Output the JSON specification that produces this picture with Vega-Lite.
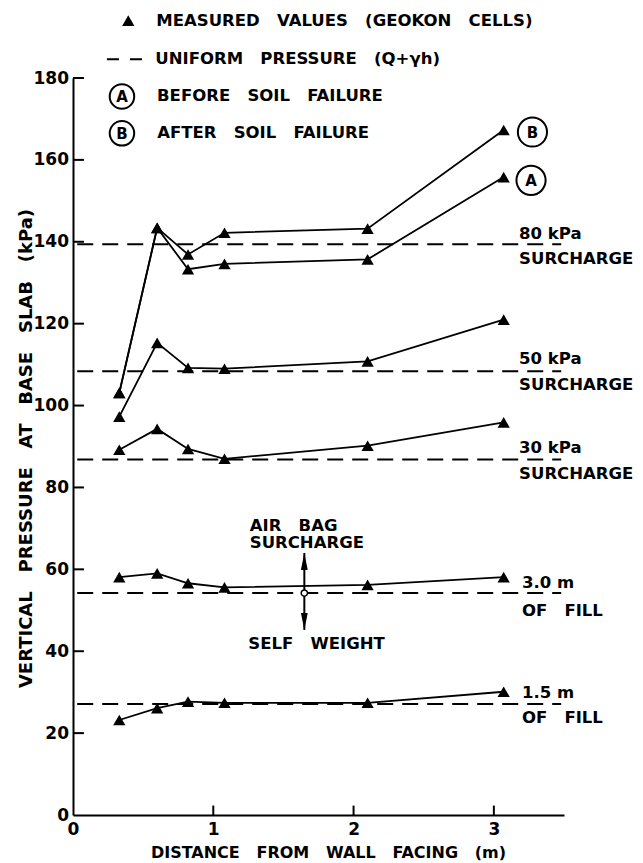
{
  "$schema": "https://vega.github.io/schema/vega-lite/v6.json",
  "width": 491,
  "height": 737,
  "autosize": {"type": "none"},
  "padding": {"left": 73, "top": 78, "right": 79, "bottom": 48},
  "background": "white",
  "config": {
    "font": "DejaVu Sans",
    "view": {"stroke": null},
    "axis": {
      "grid": false,
      "ticks": false,
      "domainColor": "black",
      "domainWidth": 2,
      "labelColor": "black",
      "titleColor": "black",
      "labelFont": "DejaVu Sans",
      "titleFont": "DejaVu Sans",
      "labelFontSize": 17,
      "labelFontWeight": "bold",
      "titleFontWeight": "bold",
      "labelFlush": false,
      "labelOverlap": false
    },
    "text": {"font": "DejaVu Sans", "fontWeight": "bold", "fontSize": 16.5, "color": "black"}
  },
  "datasets": {
    "series": [
      {"s": "80B", "x": 0.33, "y": 103.1}, {"s": "80B", "x": 0.60, "y": 143.4}, {"s": "80B", "x": 0.82, "y": 136.9}, {"s": "80B", "x": 1.08, "y": 142.2}, {"s": "80B", "x": 2.10, "y": 143.2}, {"s": "80B", "x": 3.07, "y": 167.3},
      {"s": "80A", "x": 0.33, "y": 103.1}, {"s": "80A", "x": 0.60, "y": 143.4}, {"s": "80A", "x": 0.82, "y": 133.3}, {"s": "80A", "x": 1.08, "y": 134.6}, {"s": "80A", "x": 2.10, "y": 135.7}, {"s": "80A", "x": 3.07, "y": 155.8},
      {"s": "50", "x": 0.33, "y": 97.3}, {"s": "50", "x": 0.60, "y": 115.3}, {"s": "50", "x": 0.82, "y": 109.2}, {"s": "50", "x": 1.08, "y": 109.0}, {"s": "50", "x": 2.10, "y": 110.8}, {"s": "50", "x": 3.07, "y": 121.0},
      {"s": "30", "x": 0.33, "y": 89.2}, {"s": "30", "x": 0.60, "y": 94.3}, {"s": "30", "x": 0.82, "y": 89.4}, {"s": "30", "x": 1.08, "y": 87.0}, {"s": "30", "x": 2.10, "y": 90.2}, {"s": "30", "x": 3.07, "y": 95.9},
      {"s": "3m", "x": 0.33, "y": 58.1}, {"s": "3m", "x": 0.60, "y": 59.0}, {"s": "3m", "x": 0.82, "y": 56.6}, {"s": "3m", "x": 1.08, "y": 55.6}, {"s": "3m", "x": 2.10, "y": 56.2}, {"s": "3m", "x": 3.07, "y": 58.1},
      {"s": "1.5m", "x": 0.33, "y": 23.2}, {"s": "1.5m", "x": 0.60, "y": 26.1}, {"s": "1.5m", "x": 0.82, "y": 27.7}, {"s": "1.5m", "x": 1.08, "y": 27.4}, {"s": "1.5m", "x": 2.10, "y": 27.4}, {"s": "1.5m", "x": 3.07, "y": 30.1}
    ],
    "uniform": [
      {"case": "80 kPa", "x": 0.03, "x2": 3.48, "y": 139.4},
      {"case": "50 kPa", "x": 0.03, "x2": 3.48, "y": 108.4},
      {"case": "30 kPa", "x": 0.03, "x2": 3.48, "y": 86.8},
      {"case": "3.0 m", "x": 0.03, "x2": 3.48, "y": 54.2},
      {"case": "1.5 m", "x": 0.03, "x2": 3.48, "y": 27.1}
    ],
    "yticks": [
      {"x": 0, "x2": 0.078, "y": 20}, {"x": 0, "x2": 0.078, "y": 40}, {"x": 0, "x2": 0.078, "y": 60},
      {"x": 0, "x2": 0.078, "y": 80}, {"x": 0, "x2": 0.078, "y": 100}, {"x": 0, "x2": 0.078, "y": 120},
      {"x": 0, "x2": 0.078, "y": 140}, {"x": 0, "x2": 0.078, "y": 160}, {"x": 0, "x2": 0.078, "y": 180}
    ],
    "xticks": [
      {"x": 1, "y": 0, "y2": 2.3}, {"x": 2, "y": 0, "y2": 2.3}, {"x": 3, "y": 0, "y2": 2.3}
    ],
    "labels": [
      {"text": "80 kPa", "x": 3.18, "y": 141.9},
      {"text": "SURCHARGE", "x": 3.18, "y": 135.7},
      {"text": "50 kPa", "x": 3.18, "y": 111.3},
      {"text": "SURCHARGE", "x": 3.18, "y": 105.0},
      {"text": "30 kPa", "x": 3.18, "y": 89.6},
      {"text": "SURCHARGE", "x": 3.18, "y": 83.2},
      {"text": "3.0 m", "x": 3.2, "y": 56.6},
      {"text": "OF\u00a0\u00a0\u00a0FILL", "x": 3.2, "y": 49.9},
      {"text": "1.5 m", "x": 3.2, "y": 29.9},
      {"text": "OF\u00a0\u00a0\u00a0FILL", "x": 3.2, "y": 23.6},
      {"text": "AIR\u00a0\u00a0\u00a0BAG", "x": 1.26, "y": 70.6},
      {"text": "SURCHARGE", "x": 1.26, "y": 66.4},
      {"text": "SELF\u00a0\u00a0\u00a0WEIGHT", "x": 1.25, "y": 41.8},
      {"text": "MEASURED\u00a0\u00a0\u00a0VALUES\u00a0\u00a0\u00a0(GEOKON\u00a0\u00a0\u00a0CELLS)", "x": 0.594, "y": 194.0},
      {"text": "UNIFORM\u00a0\u00a0\u00a0PRESSURE\u00a0\u00a0\u00a0(Q+γh)", "x": 0.587, "y": 184.6},
      {"text": "BEFORE\u00a0\u00a0\u00a0SOIL\u00a0\u00a0\u00a0FAILURE", "x": 0.599, "y": 175.5},
      {"text": "AFTER\u00a0\u00a0\u00a0SOIL\u00a0\u00a0\u00a0FAILURE", "x": 0.6, "y": 166.5}
    ],
    "legendCircles": [
      {"letter": "A", "x": 0.349, "y": 175.5},
      {"letter": "B", "x": 0.349, "y": 166.5}
    ],
    "plotCircles": [
      {"letter": "B", "x": 3.275, "y": 166.8},
      {"letter": "A", "x": 3.265, "y": 155.0}
    ],
    "legendTri": [{"x": 0.394, "y": 194.0}],
    "legendDash": [{"x": 0.242, "x2": 0.492, "y": 184.6}],
    "arrow": [{"x": 1.649, "y": 64.0, "y2": 45.2}],
    "arrowCenter": [{"x": 1.649, "y": 54.2}]
  },
  "encoding": {
    "x": {
      "field": "x", "type": "quantitative",
      "scale": {"domain": [0, 3.5], "nice": false, "zero": false},
      "axis": {
        "values": [0, 1, 2, 3],
        "title": "DISTANCE\u00a0\u00a0\u00a0FROM\u00a0\u00a0\u00a0WALL\u00a0\u00a0\u00a0FACING\u00a0\u00a0\u00a0(m)",
        "titleFontSize": 16,
        "labelPadding": 6,
        "titleX": 255,
        "titleY": 37,
        "titleBaseline": "middle",
        "titleAlign": "center"
      }
    },
    "y": {
      "field": "y", "type": "quantitative",
      "scale": {"domain": [0, 180], "nice": false, "zero": false},
      "axis": {
        "values": [0, 20, 40, 60, 80, 100, 120, 140, 160, 180],
        "title": "VERTICAL\u00a0\u00a0\u00a0PRESSURE\u00a0\u00a0\u00a0AT\u00a0\u00a0\u00a0BASE\u00a0\u00a0\u00a0SLAB\u00a0\u00a0\u00a0(kPa)",
        "titleFontSize": 18,
        "labelPadding": 4.5,
        "titleX": -47,
        "titleY": 370,
        "titleAngle": 270,
        "titleBaseline": "middle",
        "titleAlign": "center"
      }
    }
  },
  "layer": [
    {
      "data": {"name": "uniform"},
      "mark": {"type": "rule", "color": "black", "strokeWidth": 2, "strokeDash": [16, 9]},
      "encoding": {"x2": {"field": "x2"}}
    },
    {
      "data": {"name": "yticks"},
      "mark": {"type": "rule", "color": "black", "strokeWidth": 2},
      "encoding": {"x2": {"field": "x2"}}
    },
    {
      "data": {"name": "xticks"},
      "mark": {"type": "rule", "color": "black", "strokeWidth": 2},
      "encoding": {"y2": {"field": "y2"}}
    },
    {
      "data": {"name": "series"},
      "mark": {"type": "line", "color": "black", "strokeWidth": 1.8},
      "encoding": {"detail": {"field": "s", "type": "nominal"}}
    },
    {
      "data": {"name": "series"},
      "mark": {"type": "point", "shape": "triangle-up", "filled": true, "color": "black", "opacity": 1, "size": 150}
    },
    {
      "data": {"name": "legendTri"},
      "mark": {"type": "point", "shape": "triangle-up", "filled": true, "color": "black", "opacity": 1, "size": 150}
    },
    {
      "data": {"name": "legendDash"},
      "mark": {"type": "rule", "color": "black", "strokeWidth": 2, "strokeDash": [12, 11]},
      "encoding": {"x2": {"field": "x2"}}
    },
    {
      "data": {"name": "labels"},
      "mark": {"type": "text", "align": "left", "baseline": "middle"},
      "encoding": {"text": {"field": "text"}}
    },
    {
      "data": {"name": "legendCircles"},
      "mark": {"type": "point", "shape": "circle", "filled": false, "color": "black", "strokeWidth": 2, "opacity": 1, "size": 600}
    },
    {
      "data": {"name": "plotCircles"},
      "mark": {"type": "point", "shape": "circle", "filled": false, "color": "black", "strokeWidth": 2, "opacity": 1, "size": 850}
    },
    {
      "data": {"name": "legendCircles"},
      "mark": {"type": "text", "align": "center", "baseline": "middle", "fontSize": 15, "dy": 1},
      "encoding": {"text": {"field": "letter"}}
    },
    {
      "data": {"name": "plotCircles"},
      "mark": {"type": "text", "align": "center", "baseline": "middle", "fontSize": 15, "dy": 1},
      "encoding": {"text": {"field": "letter"}}
    },
    {
      "data": {"name": "arrow"},
      "mark": {"type": "rule", "color": "black", "strokeWidth": 2},
      "encoding": {"y2": {"field": "y2"}}
    },
    {
      "data": {"name": "arrow"},
      "mark": {"type": "point", "shape": "M0,0L0.4,2L-0.4,2Z", "filled": true, "color": "black", "opacity": 1, "size": 289}
    },
    {
      "data": {"name": "arrow"},
      "mark": {"type": "point", "shape": "M0,0L0.4,-2L-0.4,-2Z", "filled": true, "color": "black", "opacity": 1, "size": 289},
      "encoding": {"y": {"field": "y2", "type": "quantitative"}}
    },
    {
      "data": {"name": "arrowCenter"},
      "mark": {"type": "point", "shape": "circle", "filled": true, "fill": "white", "stroke": "black", "strokeWidth": 1.5, "opacity": 1, "size": 40}
    }
  ]
}
